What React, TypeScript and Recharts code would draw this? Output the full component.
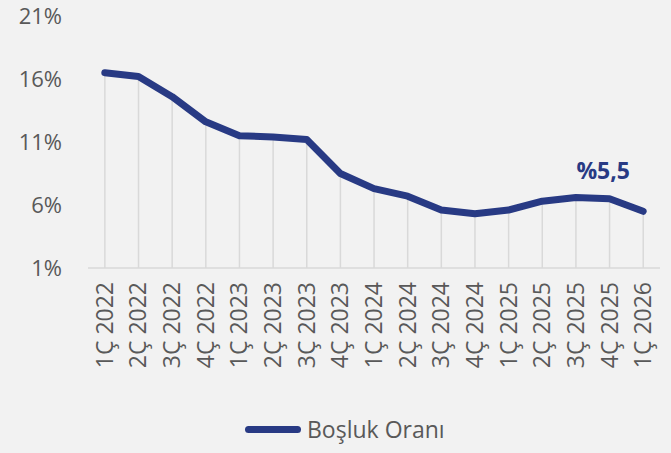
import React from 'react';
import { ComposedChart, Line, Bar, XAxis, YAxis, LabelList } from 'recharts';

const quarters = [
  '1Ç 2022', '2Ç 2022', '3Ç 2022', '4Ç 2022',
  '1Ç 2023', '2Ç 2023', '3Ç 2023', '4Ç 2023',
  '1Ç 2024', '2Ç 2024', '3Ç 2024', '4Ç 2024',
  '1Ç 2025', '2Ç 2025', '3Ç 2025', '4Ç 2025',
  '1Ç 2026',
];
const gapRate = [16.5, 16.2, 14.6, 12.6, 11.5, 11.4, 11.2, 8.5, 7.3, 6.7, 5.6, 5.3, 5.6, 6.3, 6.6, 6.5, 5.5];
const yTicks = [1, 6, 11, 16, 21];

const data = quarters.map((q, i) => ({ q, value: gapRate[i] }));

const NAVY = '#283a84';
const GREY = '#595959';
const FONT = '"Open Sans", sans-serif';

const DropLine = (props: any) => {
  const { x, y, width, height } = props;
  const cx = x + width / 2;
  return <line x1={cx} x2={cx} y1={y} y2={y + height} stroke="#d9d9d9" strokeWidth={1.5} />;
};

const LastLabel = (props: any) => {
  const { x, y, index } = props;
  if (index !== data.length - 1) return null;
  return (
    <text x={x - 40} y={y - 32} textAnchor="middle" fill={NAVY} fontSize={23} fontWeight={700} fontFamily={FONT}>
      %5,5
    </text>
  );
};

const QuarterTick = (props: any) => {
  const { x, y, payload } = props;
  return (
    <text x={x} y={y} transform={`rotate(-90, ${x}, ${y})`} textAnchor="end" dy={8} fill={GREY} fontSize={23} fontFamily={FONT}>
      {payload.value}
    </text>
  );
};

export default function App() {
  return (
    <div style={{ position: 'absolute', left: 0, top: 0, width: 671, height: 453, background: '#f2f2f2' }}>
      <ComposedChart width={671} height={453} data={data} margin={{ top: 16, right: 11, bottom: 75, left: 0 }}>
        <XAxis
          dataKey="q"
          interval={0}
          tickLine={false}
          axisLine={{ stroke: '#d9d9d9', strokeWidth: 1.5 }}
          tick={<QuarterTick />}
          height={110}
          tickMargin={8}
        />
        <YAxis
          domain={[1, 21]}
          ticks={yTicks}
          width={88}
          tickLine={false}
          axisLine={false}
          tickMargin={20}
          tickFormatter={(v: number) => `${v}%`}
          tick={{ fill: GREY, fontSize: 22, fontFamily: FONT }}
        />
        <Bar dataKey="value" shape={<DropLine />} isAnimationActive={false} />
        <Line
          type="linear"
          dataKey="value"
          stroke={NAVY}
          strokeWidth={7}
          strokeLinecap="round"
          strokeLinejoin="round"
          dot={false}
          isAnimationActive={false}
        >
          <LabelList dataKey="value" content={<LastLabel />} />
        </Line>
      </ComposedChart>
      <div style={{ position: 'absolute', left: 245, top: 413, display: 'flex', alignItems: 'center', fontFamily: FONT, fontSize: 23, color: GREY }}>
        <span style={{ display: 'inline-block', width: 56, height: 7, borderRadius: 4, background: NAVY, marginRight: 6 }} />
        Boşluk Oranı
      </div>
    </div>
  );
}
